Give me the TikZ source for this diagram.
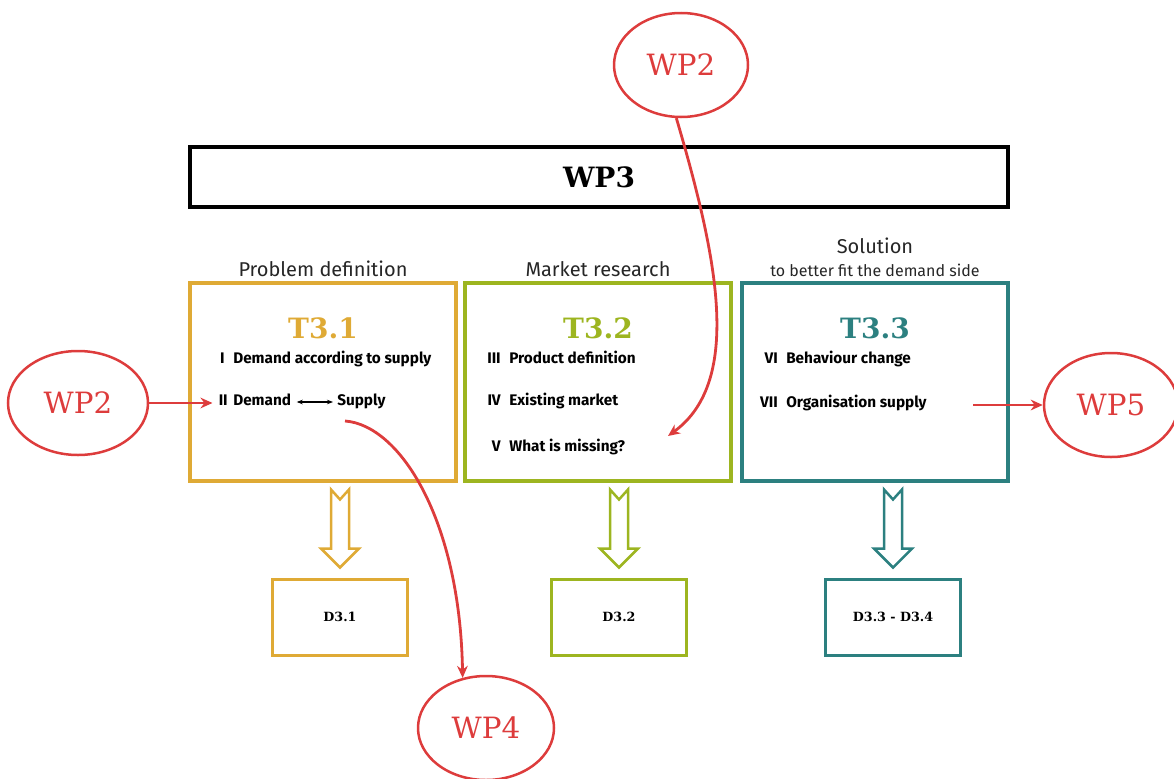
\documentclass[tikz,border=0pt]{standalone}
\usepackage{fontspec}
\setsansfont{Fira Sans}
\newfontfamily\slabfont{DejaVu Serif}
\usetikzlibrary{arrows.meta, positioning, shapes.geometric, calc}
\definecolor{cgold}{HTML}{DFAA35}
\definecolor{cgreen}{HTML}{9DB520}
\definecolor{cteal}{HTML}{2C8080}
\definecolor{cred}{HTML}{DD3C3C}
\newlength\pxl \setlength\pxl{0.75pt}
\tikzset{
  taskbox/.style={draw=#1, line width=3.5\pxl, minimum width=266\pxl, minimum height=198\pxl},
  delbox/.style={draw=#1, line width=3\pxl, minimum width=135\pxl, minimum height=76\pxl, font=\slabfont\bfseries\fontsize{9.5}{11}\selectfont},
  wp/.style={ellipse, draw=cred, line width=2.5\pxl, minimum width=134\pxl, minimum height=104\pxl, text=cred, font=\slabfont\fontsize{22}{26}\selectfont},
  ttl/.style={font=\slabfont\bfseries\fontsize{21}{25}\selectfont, text=#1},
  head/.style={font=\sffamily\fontsize{15}{17}\selectfont, text=black!85, align=center, inner sep=2pt},
  item/.style={font=\sffamily\bfseries\fontsize{11.5}{13}\selectfont, inner sep=0pt, text height=1.6ex, text depth=.45ex},
  redarrow/.style={draw=cred, line width=2.8\pxl, -{Stealth[length=9pt, width=8pt]}},
  hollow/.style={draw=#1, line width=2.5\pxl, line join=miter},
}
\begin{document}
\begin{tikzpicture}[x=0.75pt, y=-0.75pt]
  \useasboundingbox (0,0) rectangle (1174,778);
  \node[draw, line width=4\pxl, minimum width=818\pxl, minimum height=60\pxl, font=\slabfont\bfseries\fontsize{21}{25}\selectfont] (wp3) at (599,177) {WP3};
  % the three tasks with their deliverables
  \foreach \i/\x/\dx/\c/\h/\d in {
      1/323/340/cgold/Problem definition/D3.1,
      2/598/619/cgreen/Market research/D3.2,
      3/875/893/cteal/{Solution\\{\fontsize{12}{18}\selectfont to better fit the demand side}}/D3.3 - D3.4} {
    \node[taskbox=\c] (t\i) at (\x,382) {};
    \node[head, above=2\pxl of t\i] (h\i) {\h};
    \node[ttl=\c] (n\i) at (\x,328) {T3.\i};
    \node[delbox=\c] (d\i) at (\dx,617) {\d};
    \begin{scope}[shift={(d\i.north)}]
      \draw[hollow=\c] (0,-10) -- (19,-29) -- (9,-29) -- (9,-88) -- (0,-78)
        -- (-9,-88) -- (-9,-29) -- (-19,-29) -- cycle;
    \end{scope}
  }
  \foreach \r/\x/\y/\t in {
      I/233/360/Demand according to supply,
      III/509/360/Product definition,
      IV/509/402/Existing market,
      V/509/448/What is missing?,
      VI/786/360/Behaviour change,
      VII/786/404/Organisation supply} {
    \node[item, anchor=east] (num\r) at (\x-8,\y) {\r};
    \node[item, anchor=west] (it\r) at (\x,\y) {\t};
  }
  \node[item, anchor=east] (numII) at (228,402) {II};
  \node[item, anchor=west] (dem) at (233,402) {Demand};
  \node[item, anchor=west] (sup) at (337,402) {Supply};
  \draw[{Stealth[length=4.5pt]}-{Stealth[length=4.5pt]}, line width=0.9pt, shorten <=4pt, shorten >=3pt] (dem.east) -- (sup.west);
  % other work packages
  \node[wp] (wp2t) at (681,65) {WP2};
  \node[wp, minimum width=140\pxl] (wp2l) at (78,403) {WP2};
  \node[wp] (wp5) at (1111,405) {WP5};
  \node[wp, minimum width=136\pxl] (wp4) at (486,728) {WP4};
  \coordinate (o5) at (973,405);
  \coordinate (miss) at (668,436);
  \coordinate (s4) at (345,421);
  \draw[redarrow, shorten >=4.5pt] (wp2l.east) -- (wp2l.east -| numII.west);
  \draw[redarrow] (o5) -- (wp5.west);
  \draw[redarrow] (wp2t.265) .. controls (715,250) and (745,380) .. (miss);
  \draw[redarrow] (s4) .. controls (400,425) and (460,520) .. (wp4.115);
\end{tikzpicture}
\end{document}
